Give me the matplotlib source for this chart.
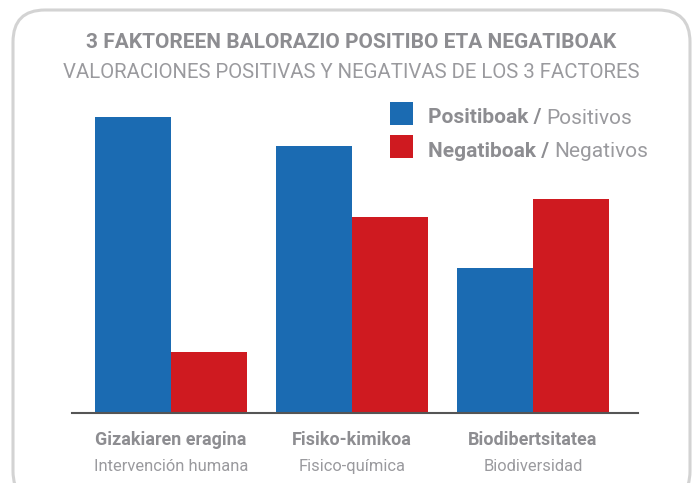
#!/usr/bin/env python
# -*- coding: utf-8 -*-

import matplotlib
matplotlib.use('Agg')
import matplotlib.pyplot as plt
import matplotlib.font_manager as fm
from matplotlib.patches import FancyBboxPatch, Rectangle
import numpy as np

# 資料
categories_eu = ['Gizakiaren eragina', 'Fisiko-kimikoa', 'Biodibertsitatea']
categories_es = ['Intervención humana', 'Fisico-química', 'Biodiversidad']
positive = [83, 75, 40.6]
negative = [17, 55, 60]
series_eu = ['Positiboak', 'Negatiboak']
series_es = ['Positivos', 'Negativos']

BLUE = '#1b6bb2'
RED = '#cf1a20'
GRAY = '#8d8d91'
LIGHT = '#9a9a9e'


def pick_font():
    names = {f.name for f in fm.fontManager.ttflist}
    for name in ['Liberation Sans Narrow', 'Roboto', 'Open Sans']:
        if name in names:
            return name
    return 'DejaVu Sans'


font = pick_font()
plt.rcParams['font.family'] = [font, 'DejaVu Sans']

fig = plt.figure(figsize=(7, 4.83), dpi=100)
W, H = 700, 483

# 圓角外框 (英吋座標)
frame = FancyBboxPatch((0.13, -0.20), 6.77, 4.93,
                       boxstyle='round,pad=0,rounding_size=0.32',
                       transform=fig.dpi_scale_trans, fc='none', ec='#d3d3d3',
                       lw=2.2, clip_on=False, zorder=-1)
fig.patches.append(frame)

ax = fig.add_axes([72 / W, 70 / H, 566 / W, 313 / H])
ax.set_facecolor('none')

x = np.arange(len(categories_eu))
width = 0.42
ax.bar(x - width / 2, positive, width, color=BLUE)
ax.bar(x + width / 2, negative, width, color=RED)

ax.set_xlim(-0.547, 2.58)
ax.set_ylim(0, 87.8)
ax.set_yticks([])
ax.set_xticks([])
for s in ['top', 'right', 'left']:
    ax.spines[s].set_visible(False)
ax.spines['bottom'].set_color('#555555')
ax.spines['bottom'].set_linewidth(1.5)

# 類別標籤
for xi, eu, es in zip(x, categories_eu, categories_es):
    ax.text(xi, -7.6, eu, ha='center', va='center', fontsize=12.9,
            fontweight='bold', color=GRAY, clip_on=False)
    ax.text(xi, -15.0, es, ha='center', va='center', fontsize=11.9,
            color=LIGHT, clip_on=False)

# 標題
fig.text(351 / W, 1 - 42 / H, '3 FAKTOREEN BALORAZIO POSITIBO ETA NEGATIBOAK',
         ha='center', va='center', fontsize=15, fontweight='bold', color=GRAY)
fig.text(351 / W, 1 - 73 / H, 'VALORACIONES POSITIVAS Y NEGATIVAS DE LOS 3 FACTORES',
         ha='center', va='center', fontsize=14.7, color=LIGHT)

# 圖例
renderer = fig.canvas.get_renderer()
for i, (eu, es, col) in enumerate(zip(series_eu, series_es, [BLUE, RED])):
    yc = 113.5 + i * 33
    fig.patches.append(Rectangle((390 / W, 1 - (yc + 11.5) / H), 23 / W, 23 / H,
                                 transform=fig.transFigure, fc=col, ec='none'))
    t = fig.text(428 / W, 1 - (yc + 10) / H, eu + ' / ', ha='left', va='baseline',
                 fontsize=15, fontweight='bold', color=GRAY)
    bb = t.get_window_extent(renderer=renderer)
    fig.text(bb.x1 / W, 1 - (yc + 10) / H, es, ha='left', va='baseline',
             fontsize=15, color=LIGHT)

plt.savefig('out.png', dpi=100)
plt.close()
